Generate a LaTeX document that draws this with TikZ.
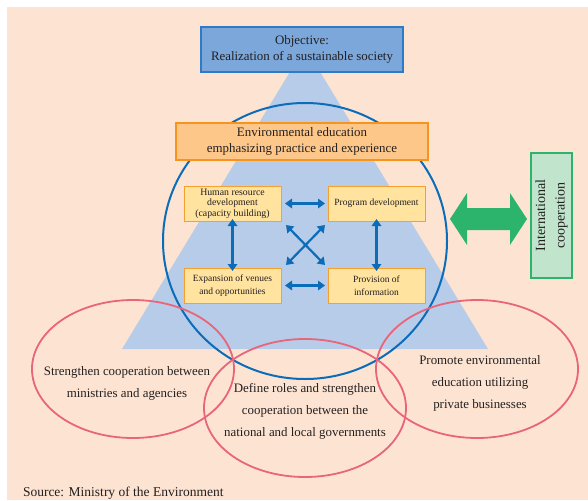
\documentclass[tikz,border=0pt]{standalone}
\usepackage{fontspec}
\setmainfont{Liberation Serif}
\usetikzlibrary{arrows.meta,shapes.geometric}

\definecolor{peach}{HTML}{FDE4D2}
\definecolor{pyramid}{HTML}{B7CCE9}
\definecolor{objfill}{HTML}{7BA7DA}
\definecolor{objline}{HTML}{2F7AC5}
\definecolor{envfill}{HTML}{FDC78A}
\definecolor{envline}{HTML}{F7941D}
\definecolor{subfill}{HTML}{FFE39F}
\definecolor{subline}{HTML}{F7A032}
\definecolor{ringblue}{HTML}{0B6CBA}
\definecolor{intgreen}{HTML}{2DB46C}
\definecolor{intfill}{HTML}{C1E5CC}
\definecolor{pinkline}{HTML}{E9657A}
\definecolor{ink}{HTML}{231F20}

\tikzset{
  x=1pt, y=-1pt,
  every node/.style={text=ink, inner sep=0pt, outer sep=0pt},
  headbox/.style={draw=#1, line width=1.2pt, minimum height=37pt, align=center,
    font=\fontsize{12.9}{16.7}\selectfont},
  subbox/.style={draw=subline, fill=subfill, line width=1pt, minimum width=97pt,
    minimum height=35pt, align=center, font=\fontsize{9.5}{12.7}\selectfont},
  linkarrow/.style={draw=ringblue, line width=2.2pt,
    {Triangle[width=9.5pt,length=7pt]}-{Triangle[width=9.5pt,length=7pt]}},
  pinkell/.style={draw=pinkline, line width=1.8pt, ellipse, minimum width=202pt,
    minimum height=138pt},
  elltext/.style={align=center, font=\fontsize{12.9}{22}\selectfont},
}

\begin{document}
\begin{tikzpicture}
\clip (0,0) rectangle (588,500);
\fill[white] (0,0) rectangle (588,500);
\fill[peach] (7,7) rectangle (588,500);

% pyramid
\fill[pyramid] (305,47) -- (488,349) -- (122,349) -- cycle;

% ring around the core of the pyramid
\node[draw=ringblue, line width=2pt, ellipse, minimum width=284pt,
  minimum height=276pt] (ring) at (305,241) {};

% objective and core theme
\node[headbox=objline, fill=objfill, minimum width=202pt, minimum height=45pt]
  (obj) at (302,49.5) {Objective:\\Realization of a sustainable society};
\node[headbox=envline, fill=envfill, minimum width=252pt]
  (env) at (302,141.5) {Environmental education\\emphasizing practice and experience};

% four supporting measures
\node[subbox, font=\fontsize{9.8}{10.4}\selectfont] (hr) at (232.5,203.5)
  {Human resource\\development\\(capacity building)};
\node[subbox] (prog) at (376.5,203.5) {Program development};
\node[subbox] (exp) at (232.5,285.5) {Expansion of venues\\and opportunities};
\node[subbox] (prov) at (376.5,285.5) {Provision of\\information};

\draw[linkarrow] ([xshift=4pt]hr.east) -- ([xshift=-3pt]prog.west);
\draw[linkarrow] ([xshift=4pt]exp.east) -- ([xshift=-3pt]prov.west);
\draw[linkarrow] ([yshift=2pt]hr.south) -- ([yshift=-3pt]exp.north);
\draw[linkarrow] ([yshift=2pt]prog.south) -- ([yshift=-3pt]prov.north);
\draw[linkarrow] ([shift={(5,4)}]hr.south east) -- ([shift={(-3,-3)}]prov.north west);
\draw[linkarrow] ([shift={(-3,4)}]prog.south west) -- ([shift={(5,-3)}]exp.north east);

% international cooperation
\node[draw=intgreen, fill=intfill, line width=1.8pt, rotate=90,
  minimum width=125pt, minimum height=41pt, align=center,
  font=\fontsize{14}{19.5}\selectfont] (intl) at (551.5,215.5)
  {International\\cooperation};
\fill[intgreen] (450,219) -- (467,193) -- (467,208) -- (510,208) -- (510,193)
  -- (527,219) -- (510,245) -- (510,230) -- (467,230) -- (467,245) -- cycle;

% cooperation circles
\node[pinkell] (ellA) at (133,369) {};
\node[pinkell] (ellB) at (305,408) {};
\node[pinkell] (ellC) at (477,369) {};
\node[elltext] (txtA) at (127,383)
  {Strengthen cooperation between\\ministries and agencies};
\node[elltext] (txtB) at (305,411)
  {Define roles and strengthen\\cooperation between the\\national and local governments};
\node[elltext] (txtC) at (480,383)
  {Promote environmental\\education utilizing\\private businesses};

% source line
\node[anchor=base west, font=\fontsize{13.5}{16}\selectfont] (src) at (23,496)
  {Source: Ministry of the Environment};
\end{tikzpicture}
\end{document}
